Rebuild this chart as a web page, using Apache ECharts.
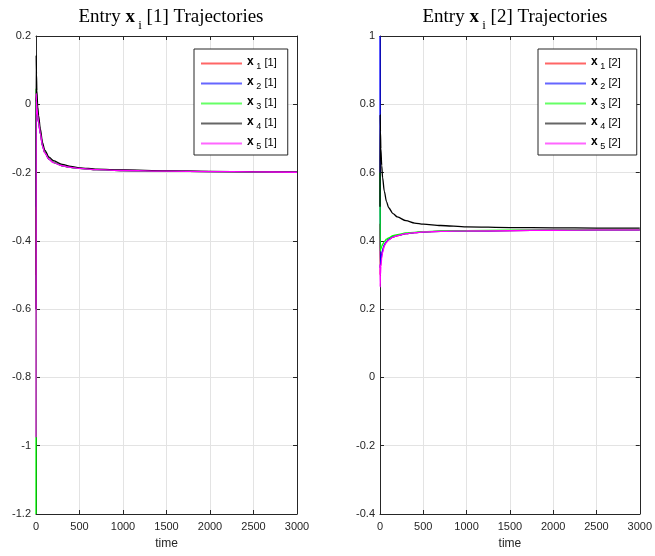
<!DOCTYPE html>
<html><head><meta charset="utf-8">
<script src="https://cdn.jsdelivr.net/npm/echarts@6/dist/echarts.min.js"></script>
<style>html,body{margin:0;padding:0;background:#fff}#c{width:655px;height:556px}</style>
</head><body><div id="c"></div>
<script>
const time = [0, 2, 5, 10, 20, 30, 50, 75, 100, 150, 200, 300, 400, 500, 700, 1000, 1500, 2000, 2500, 3000];

// Entry [1]
const x1_1 = [-0.5, 0.025, 0.005, -0.012, -0.036, -0.053, -0.085, -0.121, -0.141, -0.161, -0.17, -0.18, -0.185, -0.188, -0.1915, -0.194, -0.196, -0.197, -0.198, -0.199];
const x2_1 = [-0.3, 0.02, 0.003, -0.014, -0.038, -0.054, -0.086, -0.122, -0.141, -0.161, -0.17, -0.18, -0.185, -0.188, -0.1915, -0.194, -0.196, -0.197, -0.198, -0.199];
const x3_1 = [-1.2, 0.045, 0.015, -0.008, -0.033, -0.05, -0.083, -0.12, -0.14, -0.16, -0.17, -0.18, -0.185, -0.188, -0.1915, -0.194, -0.196, -0.197, -0.198, -0.199];
const x4_1 = [-0.6, 0.144, 0.09, 0.04, -0.008, -0.033, -0.072, -0.112, -0.134, -0.155, -0.165, -0.176, -0.182, -0.186, -0.19, -0.1925, -0.195, -0.1965, -0.1975, -0.1985];
const x5_1 = [-0.975, 0.032, 0.01, -0.01, -0.035, -0.052, -0.085, -0.122, -0.142, -0.161, -0.171, -0.18, -0.185, -0.188, -0.1915, -0.194, -0.196, -0.197, -0.198, -0.199];

// Entry [2]
const x1_2 = [0.45, 0.3, 0.325, 0.342, 0.358, 0.37, 0.387, 0.397, 0.404, 0.411, 0.415, 0.421, 0.424, 0.426, 0.428, 0.429, 0.43, 0.431, 0.432, 0.432];
const x2_2 = [1.0, 0.32, 0.335, 0.348, 0.362, 0.374, 0.389, 0.398, 0.405, 0.412, 0.416, 0.421, 0.424, 0.426, 0.428, 0.429, 0.43, 0.431, 0.432, 0.432];
const x3_2 = [0.6, 0.37, 0.372, 0.376, 0.384, 0.39, 0.398, 0.405, 0.409, 0.415, 0.418, 0.423, 0.425, 0.427, 0.429, 0.43, 0.431, 0.432, 0.433, 0.433];
const x4_2 = [0.5, 0.77, 0.72, 0.67, 0.62, 0.585, 0.545, 0.515, 0.497, 0.48, 0.47, 0.459, 0.452, 0.449, 0.445, 0.441, 0.439, 0.438, 0.4375, 0.437];
const x5_2 = [0.33, 0.265, 0.3, 0.325, 0.35, 0.366, 0.386, 0.396, 0.403, 0.411, 0.415, 0.421, 0.424, 0.426, 0.428, 0.429, 0.43, 0.431, 0.432, 0.432];

const colors = ['#ff0000', '#0000ff', '#00ff00', '#000000', '#ff00ff'];
const xTicks = { min: 0, max: 3000, interval: 500 };
const yLeft = { min: -1.2, max: 0.2, interval: 0.2 };
const yRight = { min: -0.4, max: 1.0, interval: 0.2 };

const AX = '#262626';
const FONT = '"Liberation Sans", Arial, Helvetica, sans-serif';
const SERIF = '"Liberation Serif", "Times New Roman", serif';

function xAxes(gridIndex) {
  return [
    { type: 'value', gridIndex, position: 'bottom', ...xTicks,
      name: 'time', nameLocation: 'middle', nameGap: 24,
      nameTextStyle: { fontFamily: FONT, fontSize: 12, color: AX },
      axisLine: { show: true, onZero: false, lineStyle: { color: AX, width: 1 } },
      axisTick: { show: true, inside: true, length: 4, lineStyle: { color: AX } },
      axisLabel: { fontFamily: FONT, fontSize: 11, color: AX, margin: 7, formatter: v => String(v) },
      splitLine: { show: true, lineStyle: { color: '#e3e3e3', width: 1 } } },
    { type: 'value', gridIndex, position: 'top', ...xTicks,
      axisLine: { show: true, onZero: false, lineStyle: { color: AX, width: 1 } },
      axisTick: { show: true, inside: true, length: 4, lineStyle: { color: AX } },
      axisLabel: { show: false }, splitLine: { show: false } }
  ];
}
function yAxes(gridIndex, rng) {
  return [
    { type: 'value', gridIndex, position: 'left', ...rng,
      axisLine: { show: true, onZero: false, lineStyle: { color: AX, width: 1 } },
      axisTick: { show: true, inside: true, length: 4, lineStyle: { color: AX } },
      axisLabel: { fontFamily: FONT, fontSize: 11, color: AX, margin: 5 },
      splitLine: { show: true, lineStyle: { color: '#e3e3e3', width: 1 } } },
    { type: 'value', gridIndex, position: 'right', ...rng,
      axisLine: { show: true, onZero: false, lineStyle: { color: AX, width: 1 } },
      axisTick: { show: true, inside: true, length: 4, lineStyle: { color: AX } },
      axisLabel: { show: false }, splitLine: { show: false } }
  ];
}

function mk(name, vals, color, xi, yi) {
  return { name, type: 'line', xAxisIndex: xi, yAxisIndex: yi,
    data: time.map((t, i) => [t, vals[i]]),
    showSymbol: false, symbol: 'none', smooth: 0.3, smoothMonotone: 'x',
    lineStyle: { color, width: 1.3 }, itemStyle: { color }, animation: false };
}

const left = [x1_1, x2_1, x3_1, x4_1, x5_1];
const right = [x1_2, x2_2, x3_2, x4_2, x5_2];
const series = [];
left.forEach((v, i) => series.push(mk('x' + (i + 1) + ' [1]', v, colors[i], 0, 0)));
right.forEach((v, i) => series.push(mk('x' + (i + 1) + ' [2]', v, colors[i], 2, 2)));

const legRich = {
  b: { fontFamily: FONT, fontWeight: 'bold', fontSize: 12, color: '#000', verticalAlign: 'bottom', padding: [0, 0, 3, 0] },
  s: { fontFamily: FONT, fontSize: 9, color: '#000', verticalAlign: 'bottom', padding: [0, 0, 0, 0] },
  n: { fontFamily: FONT, fontSize: 11, color: '#000', verticalAlign: 'bottom', padding: [0, 0, 3, 0] }
};
function legFmt(name) {
  const m = name.match(/x(\d) \[(\d)\]/);
  return '{b|x}{s| ' + m[1] + '} {n|[' + m[2] + ']}';
}
function legend(names, left, padRight) {
  return { data: names, orient: 'vertical', left, top: 49, icon: 'rect', itemWidth: 41, itemHeight: 2, itemGap: 5,
    itemStyle: { opacity: 0.6, borderWidth: 0 },
    backgroundColor: '#fff', borderColor: AX, borderWidth: 1, borderRadius: 0,
    padding: [7, padRight, 4, 7], formatter: legFmt, textStyle: { rich: legRich, padding: [0, 0, 0, 0] } };
}

const titleRich = {
  a: { fontFamily: SERIF, fontSize: 19, fontWeight: 'normal', color: '#000', verticalAlign: 'bottom', padding: [0, 0, 5, 0] },
  b: { fontFamily: SERIF, fontSize: 19, fontWeight: 'bold', color: '#000', verticalAlign: 'bottom', padding: [0, 0, 5, 0] },
  s: { fontFamily: SERIF, fontSize: 13, fontWeight: 'normal', color: '#000', verticalAlign: 'bottom' }
};

const option = {
  backgroundColor: '#fff',
  animation: false,
  title: [
    { text: '{a|Entry }{b|x}{s| i}{a| [1] Trajectories}', left: 166, top: 3, textAlign: 'center', textStyle: { fontWeight: 'normal', rich: titleRich } },
    { text: '{a|Entry }{b|x}{s| i}{a| [2] Trajectories}', left: 510, top: 3, textAlign: 'center', textStyle: { fontWeight: 'normal', rich: titleRich } }
  ],
  grid: [
    { left: 36, top: 36, width: 261, height: 478, containLabel: false },
    { left: 380, top: 36, width: 261, height: 478, containLabel: false }
  ],
  xAxis: [...xAxes(0), ...xAxes(1)],
  yAxis: [...yAxes(0, yLeft), ...yAxes(1, yRight)],
  legend: [
    legend(series.slice(0, 5).map(s => s.name), 194, 11),
    legend(series.slice(5).map(s => s.name), 538, 16)
  ],
  series
};

const chart = echarts.init(document.getElementById('c'), null, { renderer: 'canvas' });
chart.setOption(option);
</script>
</body></html>
